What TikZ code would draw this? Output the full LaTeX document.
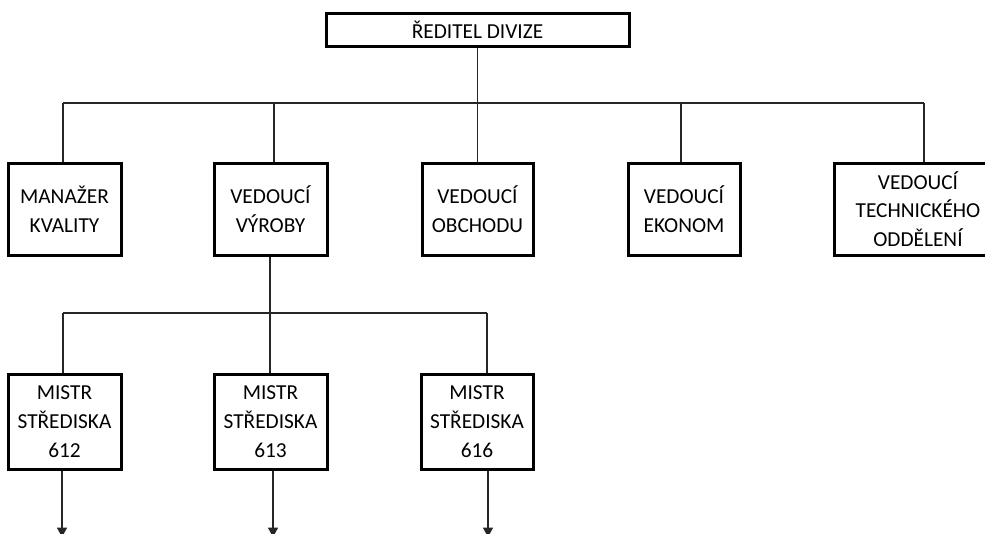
\documentclass[tikz,border=0pt]{standalone}
\usepackage{fontspec}
\setmainfont{Carlito}
\usetikzlibrary{arrows.meta}
\begin{document}
\begin{tikzpicture}[x=0.75pt,y=-0.75pt,
  orgbox/.style={draw=black,line width=2.25pt,fill=white,align=center,inner sep=0pt,
    font=\fontsize{16pt}{21.5pt}\selectfont},
  rowone/.style={orgbox,minimum height=69pt},
  rowtwo/.style={orgbox,minimum height=71.25pt},
  link/.style={draw=black!85,line width=1pt},
  down/.style={link,-{Triangle[width=7.5pt,length=7pt]}}]
\path[use as bounding box] (0,0) rectangle (985,533);
\clip (0,0) rectangle (985,533);

% director
\node[orgbox,minimum width=227.25pt,minimum height=24.75pt] (dir) at (477.5,29.5) {ŘEDITEL DIVIZE};

% first level
\node[rowone,minimum width=84.75pt] (kval) at (64.5,209) {MANAŽER\\KVALITY};
\node[rowone,minimum width=84.75pt] (vyr)  at (270.5,209) {VEDOUCÍ\\VÝROBY};
\node[rowone,minimum width=83.25pt] (obch) at (477.5,209) {VEDOUCÍ\\OBCHODU};
\node[rowone,minimum width=84pt]    (ekon) at (684,209) {VEDOUCÍ\\EKONOM};
\node[rowone,minimum width=126pt]   (tech) at (918,209) {VEDOUCÍ\\TECHNICKÉHO\\ODDĚLENÍ};

% second level
\node[rowtwo,minimum width=84.75pt] (m612) at (64.5,421.5) {MISTR\\STŘEDISKA\\612};
\node[rowtwo,minimum width=84.75pt] (m613) at (270.5,421.5) {MISTR\\STŘEDISKA\\613};
\node[rowtwo,minimum width=84pt]    (m616) at (477,421.5) {MISTR\\STŘEDISKA\\616};

% bus points of the first level
\coordinate (ja) at (63,103);
\coordinate (jb) at (274,103);
\coordinate (jd) at (681,103);
\coordinate (je) at (924,103);
% bus points of the second level
\coordinate (ka) at (63,313);
\coordinate (kb) at (270,313);
\coordinate (kc) at (487,313);
% loose ends of the outgoing arrows
\coordinate (ea) at (62,537);
\coordinate (eb) at (273,537);
\coordinate (ec) at (488,537);

% first level connectors
\draw[link] (dir.south) -- (obch.north);
\draw[link] (ja) -- (je);
\draw[link] (ja) -- (ja |- kval.north);
\draw[link] (jb) -- (jb |- vyr.north);
\draw[link] (jd) -- (jd |- ekon.north);
\draw[link] (je) -- (je |- tech.north);

% second level connectors
\draw[link] (vyr.south -| kb) -- (kb |- m613.north);
\draw[link] (ka) -- (kc);
\draw[link] (ka) -- (ka |- m612.north);
\draw[link] (kc) -- (kc |- m616.north);

% outgoing arrows
\draw[down] (m612.south -| ea) -- (ea);
\draw[down] (m613.south -| eb) -- (eb);
\draw[down] (m616.south -| ec) -- (ec);
\end{tikzpicture}
\end{document}
